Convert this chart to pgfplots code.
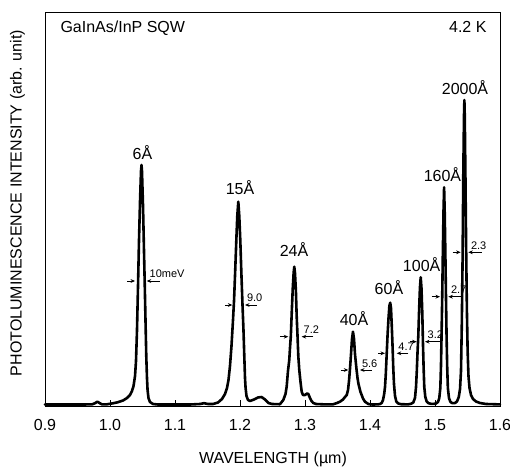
\documentclass[border=0pt]{standalone}
\usepackage{fontspec}
\setmainfont{Liberation Sans}
\usepackage{pgfplots}
\pgfplotsset{compat=1.18}
\usetikzlibrary{arrows.meta}
\begin{document}
\begin{tikzpicture}[font=\fontsize{16bp}{19bp}\selectfont]
\begin{axis}[
  scale only axis,
  width=455bp, height=394bp,
  at={(0,0)}, anchor=south west,
  xmin=0.9, xmax=1.6, ymin=0, ymax=394,
  xtick={0.9,1.0,1.1,1.2,1.3,1.4,1.5,1.6},
  xticklabels={0.9,1.0,1.1,1.2,1.3,1.4,1.5,1.6},
  ytick=\empty,
  tick align=inside, xtick pos=bottom,
  major tick length=6bp,
  axis line style={line width=0.9bp},
  every tick/.style={line width=0.8bp,black},
  xticklabel style={anchor=base, yshift=-24.7bp},
  xlabel={WAVELENGTH (µm)},
  ylabel={PHOTOLUMINESCENCE INTENSITY (arb. unit)},
  every axis x label/.style={at={(axis description cs:0.501,-0.1447)},anchor=base},
  every axis y label/.style={at={(axis description cs:-0.0512,0.5152)},rotate=90,anchor=base},
  clip=false,
]
\addplot[black, line width=2.6bp, line join=round, line cap=round] coordinates {
(0.9000,1.5) (0.9538,1.5) (0.9723,1.6) (0.9769,2.8) (0.9805,4.3) (0.9838,3.0) (0.9877,1.6)
(0.9954,1.7) (1.0046,2.7) (1.0123,3.8) (1.0200,5.5) (1.0262,8) (1.0308,11) (1.0338,15)
(1.0362,20) (1.0385,30) (1.0400,45) (1.0415,75) (1.0431,120) (1.0446,165) (1.0462,205)
(1.0477,235) (1.0485,241) (1.0492,235) (1.0508,200) (1.0523,155) (1.0535,120) (1.0548,80)
(1.0558,50) (1.0569,28) (1.0578,16) (1.0592,8) (1.0615,4) (1.0662,2) (1.0738,1.5)
(1.1231,1.5) (1.1385,2.0) (1.1446,2.8) (1.1508,2.0) (1.1585,2) (1.1662,3.5) (1.1723,7)
(1.1769,12) (1.1800,18) (1.1823,26) (1.1846,40) (1.1869,60) (1.1889,82) (1.1908,105)
(1.1926,135) (1.1943,165) (1.1958,190) (1.1974,204.3) (1.1989,190) (1.2005,165) (1.2020,135)
(1.2038,102) (1.2054,75) (1.2066,50) (1.2077,28) (1.2086,18) (1.2100,10) (1.2123,6)
(1.2154,5) (1.2215,6.5) (1.2277,8.5) (1.2331,9) (1.2385,6.5) (1.2438,3) (1.2492,2) (1.2600,1.8)
(1.2615,1.8) (1.2666,6) (1.2700,12) (1.2718,19.3) (1.2738,35) (1.2758,46) (1.2769,58)
(1.2782,70) (1.2797,95) (1.2812,118) (1.2825,133) (1.2835,139.3) (1.2846,133) (1.2860,115)
(1.2872,90) (1.2885,70) (1.2897,50) (1.2912,36) (1.2931,24) (1.2949,14.3) (1.2969,11)
(1.3000,11) (1.3031,12.5) (1.3051,12) (1.3077,8) (1.3100,5) (1.3128,3) (1.3169,2)
(1.3308,1.6) (1.3431,1.7)
(1.3492,3) (1.3538,4.3) (1.3585,6.5) (1.3615,9) (1.3642,11) (1.3662,16) (1.3677,25)
(1.3692,37) (1.3708,52) (1.3723,67) (1.3738,74.3) (1.3754,67) (1.3769,52) (1.3792,37)
(1.3808,28) (1.3823,22) (1.3838,18) (1.3854,14) (1.3872,11) (1.3892,7.5) (1.3923,4.3)
(1.3974,2) (1.4031,1.5) (1.4123,1.6)
(1.4154,2) (1.4180,3) (1.4200,6) (1.4218,12) (1.4231,19) (1.4243,32) (1.4257,52)
(1.4271,72) (1.4285,88) (1.4298,100) (1.4311,103.3) (1.4323,98) (1.4335,80) (1.4348,58)
(1.4358,38) (1.4369,22) (1.4385,10) (1.4405,4.5) (1.4435,2.5) (1.4477,1.8) (1.4585,1.6)
(1.4631,2.2) (1.4666,3.5) (1.4692,8) (1.4708,19) (1.4720,35) (1.4732,55) (1.4743,70)
(1.4755,95) (1.4768,118) (1.4780,128.7) (1.4792,118) (1.4805,92) (1.4815,62) (1.4825,38)
(1.4835,19) (1.4851,9) (1.4872,4.5) (1.4900,2.8) (1.4938,2.2) (1.4985,2.2) (1.5015,2.5)
(1.5046,4)
(1.5066,8) (1.5082,18) (1.5092,40) (1.5102,75) (1.5111,109) (1.5120,150) (1.5131,195)
(1.5140,218.7) (1.5149,195) (1.5160,150) (1.5169,109) (1.5178,70) (1.5188,38) (1.5198,18)
(1.5215,8) (1.5238,4) (1.5269,2.8) (1.5308,3) (1.5338,4.5)
(1.5366,9) (1.5385,17) (1.5400,35) (1.5412,80) (1.5425,150) (1.5435,230) (1.5446,290)
(1.5452,306) (1.5458,290) (1.5469,225) (1.5480,153) (1.5491,95) (1.5502,55) (1.5515,30)
(1.5531,18) (1.5554,11) (1.5585,7) (1.5631,4.5) (1.5692,3) (1.5785,2) (1.6000,1.6)
};
% top texts
\node[anchor=base west] at (axis cs:0.9185,373) {GaInAs/InP SQW};
\node[anchor=base east] at (axis cs:1.5846,373) {4.2 K};
% peak labels
\node[anchor=base] at (axis cs:1.0500,246) {6Å};
\node[anchor=base] at (axis cs:1.2000,211) {15Å};
\node[anchor=base] at (axis cs:1.2831,149.3) {24Å};
\node[anchor=base] at (axis cs:1.3754,81) {40Å};
\node[anchor=base] at (axis cs:1.4292,111) {60Å};
\node[anchor=base] at (axis cs:1.4795,134.3) {100Å};
\node[anchor=base] at (axis cs:1.5115,224.3) {160Å};
\node[anchor=base] at (axis cs:1.5462,311) {2000Å};
% FWHM arrows
\begin{scope}[line width=0.75bp, arr/.style={-{Stealth[length=4.5bp,width=3.8bp]}},
  lab/.style={anchor=base west, inner sep=0pt, font=\fontsize{11bp}{13bp}\selectfont}]
\draw[arr] (axis cs:1.0262,125) -- (axis cs:1.0385,125);
\draw[arr] (axis cs:1.0769,125) -- (axis cs:1.0565,125);
\node[lab] at (axis cs:1.0605,128) {10meV};
\draw[arr] (axis cs:1.1769,101) -- (axis cs:1.1882,101);
\draw[arr] (axis cs:1.2257,101) -- (axis cs:1.2077,101);
\node[lab] at (axis cs:1.2103,104) {9.0};
\draw[arr] (axis cs:1.2615,69.3) -- (axis cs:1.2743,69.3);
\draw[arr] (axis cs:1.3128,69.3) -- (axis cs:1.2949,69.3);
\node[lab] at (axis cs:1.2974,72.3) {7.2};
\draw[arr] (axis cs:1.3549,36) -- (axis cs:1.3666,36);
\draw[arr] (axis cs:1.4026,36) -- (axis cs:1.3846,36);
\node[lab] at (axis cs:1.3872,39) {5.6};
\draw[arr] (axis cs:1.4128,52.7) -- (axis cs:1.4231,52.7);
\draw[arr] (axis cs:1.4589,52.7) -- (axis cs:1.4411,52.7);
\node[lab] at (axis cs:1.4431,55.7) {4.7};
\draw[arr] (axis cs:1.4615,64.3) -- (axis cs:1.4718,64.3);
\draw[arr] (axis cs:1.5103,64.3) -- (axis cs:1.4846,64.3);
\node[lab] at (axis cs:1.4882,67.3) {3.2};
\draw[arr] (axis cs:1.4949,109.3) -- (axis cs:1.5077,109.3);
\draw[arr] (axis cs:1.5435,109.3) -- (axis cs:1.5205,109.3);
\node[lab] at (axis cs:1.5242,112.3) {2.7};
\draw[arr] (axis cs:1.5272,153.7) -- (axis cs:1.5395,153.7);
\draw[arr] (axis cs:1.5718,153.7) -- (axis cs:1.5512,153.7);
\node[lab] at (axis cs:1.5549,156.7) {2.3};
\end{scope}
\end{axis}
\pgfresetboundingbox
\path[use as bounding box] (-45bp,-63bp) rectangle (465bp,406bp);
\end{tikzpicture}
\end{document}
